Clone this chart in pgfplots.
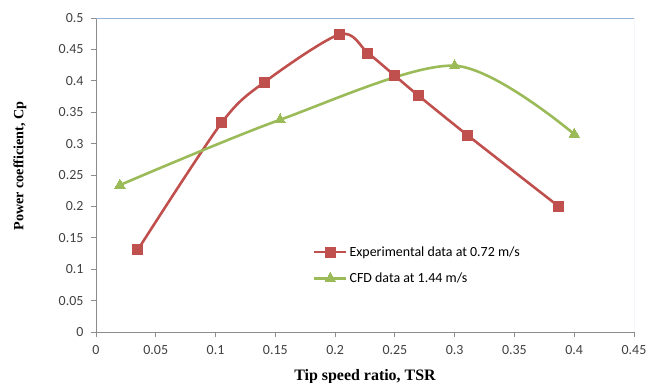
\documentclass[border=0pt]{standalone}
\usepackage{pgfplots}
\pgfplotsset{compat=1.18}
\usepackage{fontspec}
\setmainfont{Carlito}
\newfontfamily\serifb{Liberation Serif}
\definecolor{exred}{HTML}{C0504D}
\definecolor{exgreen}{HTML}{9BBB59}
\definecolor{axgray}{HTML}{8C8C8C}
\definecolor{boxblue}{HTML}{95B3D7}
\definecolor{ticktext}{HTML}{404040}
\begin{document}
\begin{tikzpicture}
\begin{axis}[
  scale only axis,
  width=538bp, height=314bp,
  xmin=0, xmax=0.45, ymin=0, ymax=0.5,
  xtick={0,0.05,...,0.45},
  ytick={0,0.05,...,0.5},
  axis x line*=bottom, axis y line*=left,
  axis line style={-, axgray, line width=1pt},
  tick style={axgray, line width=0.8pt},
  tick align=outside,
  major tick length=5bp,
  /pgf/number format/assume math mode=true,
  /pgf/number format/fixed,
  /pgf/number format/precision=2,
  ticklabel style={font=\fontsize{14}{16}\selectfont, text=ticktext},
  xticklabel shift=5bp,
  yticklabel shift=4bp,
  xlabel={\serifb\bfseries Tip speed ratio, TSR},
  ylabel={\serifb\bfseries Power coefficient, Cp},
  xlabel style={font=\fontsize{16}{18}\selectfont, at={(rel axis cs:0.5,0)}, anchor=base, yshift=-48bp},
  ylabel style={font=\fontsize{14.2}{16}\selectfont, at={(rel axis cs:0,0.529)}, anchor=center, yshift=76bp},
  legend style={draw=none, fill=none, at={(rel axis cs:0.403,0.279)}, anchor=north west,
    font=\fontsize{14}{16}\selectfont, row sep=11bp, inner sep=0pt},
  legend cell align=left,
  legend image code/.code={
    \draw[#1, mark=none] (0bp,0bp) -- (32bp,0bp);
    \draw[#1, only marks] plot coordinates {(16bp,0bp)};
  },
]
\draw[boxblue, line width=1pt] (rel axis cs:0,1) -- (rel axis cs:1,1) -- (rel axis cs:1,0);
\addplot[exred, line width=2.6pt, smooth, tension=0.5, mark=square*, mark size=5bp,
  mark options={solid, line width=0pt, fill=exred}]
coordinates {
(0.035,0.131) (0.105,0.333) (0.141,0.398) (0.204,0.474) (0.2275,0.444)
(0.250,0.408) (0.270,0.376) (0.311,0.313) (0.387,0.200)
};
\addlegendentry{Experimental data at 0.72 m/s}
\addplot[exgreen, line width=2.6pt, smooth, tension=0.5, mark=triangle*, mark size=6bp,
  mark options={solid, line width=0pt, fill=exgreen}]
coordinates {
(0.020,0.234) (0.154,0.338) (0.300,0.424) (0.400,0.315)
};
\addlegendentry{CFD data at 1.44 m/s}
\end{axis}
\pgfresetboundingbox
\path (-96bp,-51bp) rectangle (565bp,332bp);
\end{tikzpicture}
\end{document}
